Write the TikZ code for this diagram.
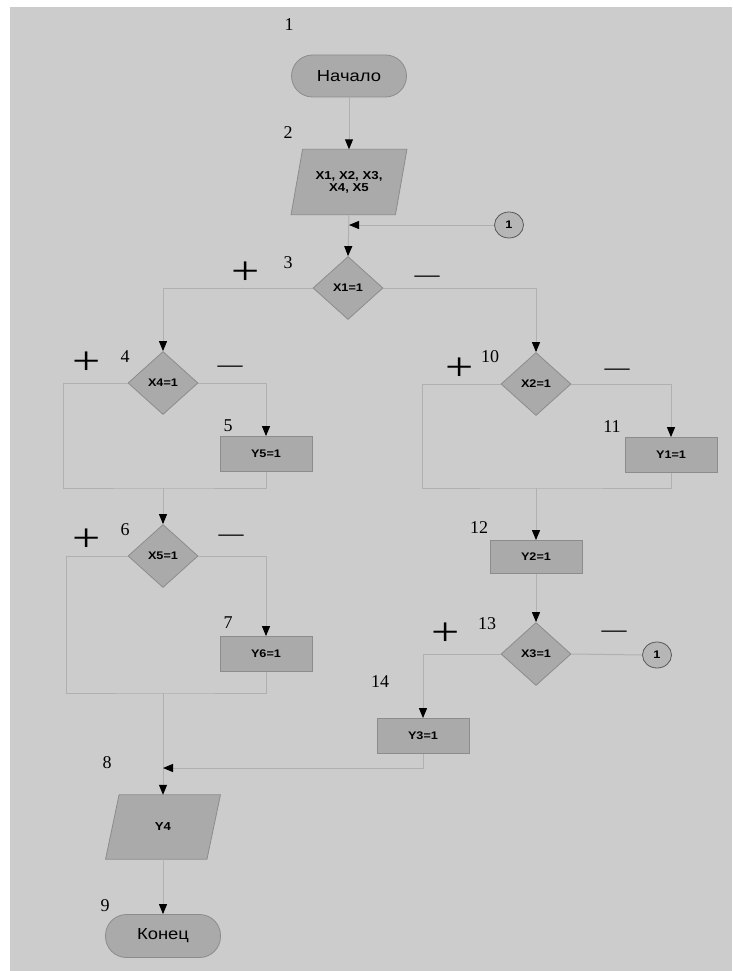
\documentclass[tikz,border=0pt]{standalone}
\usepackage{fontspec}
\setmainfont{Liberation Serif}
\newfontfamily\lsans[FakeStretch=1.15]{Liberation Sans}
\newfontfamily\plusfont[FakeStretch=1.25]{Liberation Serif}
\usetikzlibrary{arrows.meta,shapes.geometric}
\definecolor{bg}{RGB}{204,204,204}
\definecolor{shapefill}{RGB}{170,170,170}
\definecolor{shapeline}{RGB}{140,140,140}
\definecolor{conn}{RGB}{176,176,176}
\definecolor{circfill}{RGB}{182,182,182}
\tikzset{
  shapelook/.style={draw=shapeline, fill=shapefill, line width=0.8pt},
  base/.style={shapelook, inner sep=0pt, align=center,
    font=\lsans\bfseries\fontsize{11}{12}\selectfont},
  term/.style={base, rectangle, rounded corners=21pt, minimum width=115pt, minimum height=42pt,
    font=\lsans\fontsize{16}{18}\selectfont},
  iobox/.style={rectangle, inner sep=0pt, minimum height=65pt},
  iotext/.style={inner sep=0pt, align=center, font=\lsans\bfseries\fontsize{11.5}{12}\selectfont},
  dec/.style={base, diamond, minimum width=70pt, minimum height=63pt},
  proc/.style={base, rectangle, minimum width=92pt, minimum height=35pt},
  conncirc/.style={base, ellipse, fill=circfill, draw=gray!70!black, minimum width=29pt, minimum height=26pt,
    font=\lsans\bfseries\fontsize{11}{11}\selectfont},
  line/.style={draw=conn, line width=1pt},
  arr/.style={line, -{Triangle[width=8pt,length=10pt,color=black]}},
  num/.style={inner sep=0pt, font=\fontsize{18}{18}\selectfont},
  plussign/.style={inner sep=0pt, font=\plusfont\fontsize{40}{40}\selectfont},
  minussign/.style={inner sep=0pt, anchor=base, font=\fontsize{25}{25}\selectfont},
}
\begin{document}
\begin{tikzpicture}[x=1pt,y=-1pt]
\useasboundingbox (0,0) rectangle (732,971);
\fill[white] (0,0) rectangle (732,971);
\fill[bg] (10,7) rectangle (732,971);

% nodes
\node[term] (start) at (349,76) {Начало};
\node[iobox, minimum width=104pt] (inp) at (349,182) {};
\filldraw[shapelook] ([xshift=-5.75pt]inp.south west) -- ([xshift=-5.75pt]inp.south east)
  -- ([xshift=5.75pt]inp.north east) -- ([xshift=5.75pt]inp.north west) -- cycle;
\node[iotext] (inpt) at (inp) {X1, X2, X3,\\X4, X5};
\node[conncirc] (c1) at (509,225) {1};
\node[dec] (d1) at (348,288) {X1=1};
\node[dec] (d4) at (163,383) {X4=1};
\node[proc] (y5) at (266,454) {Y5=1};
\node[dec] (d6) at (163,556) {X5=1};
\node[proc] (y6) at (266,654) {Y6=1};
\node[iobox, minimum width=101pt, minimum height=64pt] (out) at (163,827) {};
\filldraw[shapelook] ([xshift=-6.75pt]out.south west) -- ([xshift=-6.75pt]out.south east)
  -- ([xshift=6.75pt]out.north east) -- ([xshift=6.75pt]out.north west) -- cycle;
\node[iotext] (outt) at (out) {Y4};
\node[term, minimum height=43pt] (end) at (163,936) {Конец};
\node[dec] (d2) at (536,384) {X2=1};
\node[proc] (y1) at (671,455) {Y1=1};
\node[proc, minimum height=33pt] (y2) at (536,557) {Y2=1};
\node[dec] (d3) at (536,654) {X3=1};
\node[conncirc] (c2) at (657,655) {1};
\node[proc] (y3) at (423,736) {Y3=1};

\coordinate (m4) at (163,488);
\coordinate (m6) at (163,693);
\coordinate (m2) at (536,488);
\coordinate (j8) at (163,768);

% connectors
\draw[arr] (start.south) -- (inp.north);
\draw[arr] (inp.south) -- (d1.north);
\draw[arr] (c1.west) -- (c1.west -| inp.south);
\draw[arr] (d1.west) -| (d4.north);
\draw[arr] (d1.east) -| (d2.north);

\draw[arr] (d4.east) -| (y5.north);
\draw[line] (d4.west) -| ([xshift=-100pt]m4) -- (m4) -| (y5.south);
\draw[arr] (m4) -- (d6.north);

\draw[arr] (d6.east) -| (y6.north);
\draw[line] (d6.west) -| ([xshift=-97pt]m6) -- (m6) -| (y6.south);
\draw[arr] (m6) -- (out.north);

\draw[arr] (d2.east) -| (y1.north);
\draw[line] (d2.west) -| ([xshift=-114pt]m2) -- (m2) -| (y1.south);
\draw[arr] (m2) -- (y2.north);
\draw[arr] (y2.south) -- (d3.north);
\draw[line] (d3.east) -- (c2.west);
\draw[arr] (d3.west) -| (y3.north);
\draw[arr] (y3.south) |- (j8);
\draw[arr] (out.south) -- (end.north);

% numbers
\node[num] (n1) at (289,25) {1};
\node[num] (n2) at (288,133) {2};
\node[num] (n3) at (288,263) {3};
\node[num] (n4) at (125,357) {4};
\node[num] (n5) at (228,426) {5};
\node[num] (n6) at (125,530) {6};
\node[num] (n7) at (228,623) {7};
\node[num] (n8) at (107,763) {8};
\node[num] (n9) at (105,906) {9};
\node[num] (n10) at (490,357) {10};
\node[num] (n11) at (612,427) {11};
\node[num] (n12) at (479,528) {12};
\node[num] (n13) at (487,624) {13};
\node[num] (n14) at (380,682) {14};

% signs
\node[plussign] (p1) at (246,273) {+};
\node[plussign] (p4) at (87,363) {+};
\node[plussign] (p6) at (87,540) {+};
\node[plussign] (p2) at (460,369) {+};
\node[plussign] (p3) at (446,634) {+};
\node[minussign] (s1) at (427,282) {—};
\node[minussign] (s4) at (230,372) {—};
\node[minussign] (s6) at (231,541) {—};
\node[minussign] (s2) at (617,375) {—};
\node[minussign] (s3) at (614,637) {—};
\end{tikzpicture}
\end{document}
